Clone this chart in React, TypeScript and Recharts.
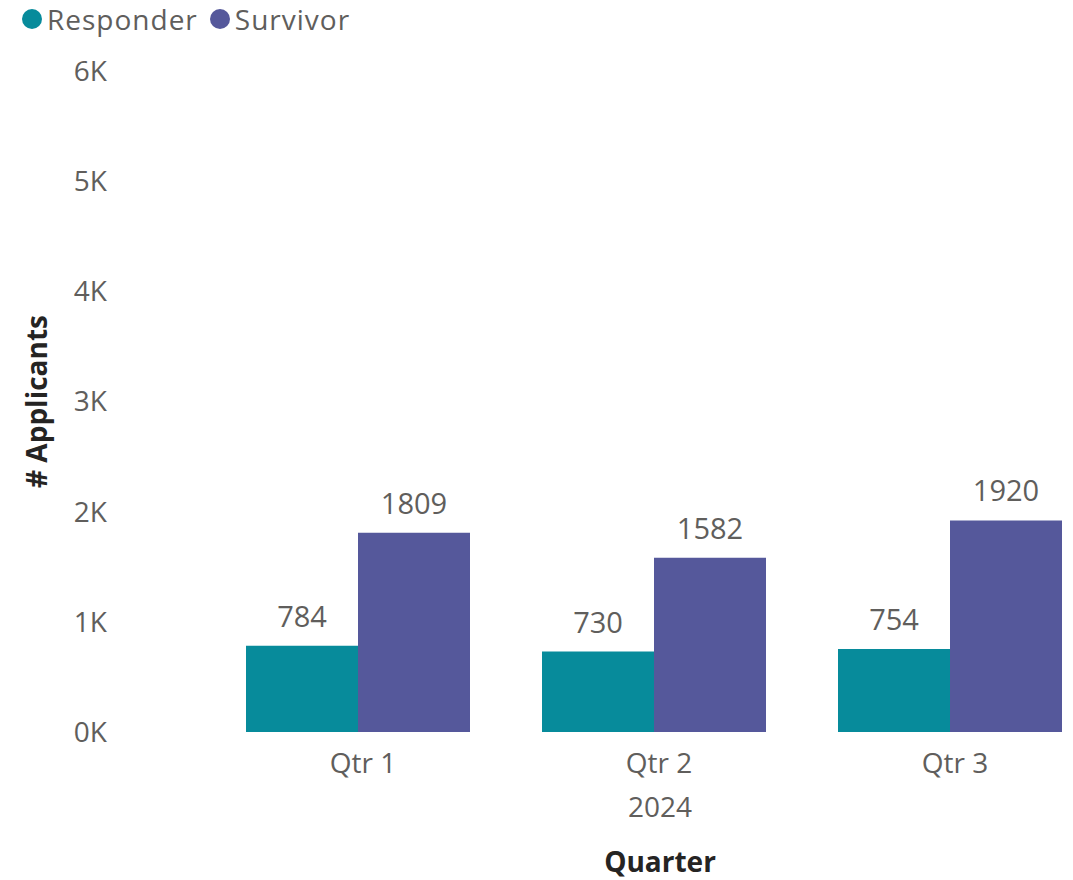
import React from 'react';
import { BarChart, Bar, XAxis, YAxis, LabelList } from 'recharts';

const quarters = ['Qtr 1', 'Qtr 2', 'Qtr 3'];
const responder = [784, 730, 754];
const survivor = [1809, 1582, 1920];
const yTicks = [0, 1000, 2000, 3000, 4000, 5000, 6000];
const yearLabel = '2024';
const seriesNames = ['Responder', 'Survivor'];
const seriesColors = ['#078B9B', '#55589B'];

const data = quarters.map((q, i) => ({ q, Responder: responder[i], Survivor: survivor[i] }));

const FONT = '"Segoe UI", "Open Sans", sans-serif';
const GRAY = '#605E5C';
const DARK = '#252423';

const XTick = (props: any) => {
  const { x, y, payload, index } = props;
  return (
    <g>
      <text x={x + 5} y={y + 30} textAnchor="middle" dominantBaseline="central" fill={GRAY} fontSize={28} fontFamily={FONT}>
        {payload.value}
      </text>
      {index === 1 && (
        <text x={x + 6} y={y + 74} textAnchor="middle" dominantBaseline="central" fill={GRAY} fontSize={28} fontFamily={FONT}>
          {yearLabel}
        </text>
      )}
    </g>
  );
};

export default function App() {
  return (
    <div style={{ position: 'absolute', left: 0, top: 0, width: 1073, height: 880, overflow: 'hidden', background: '#fff', fontFamily: FONT }}>
      <div style={{ position: 'absolute', left: 22, top: 0, display: 'flex', alignItems: 'center', zIndex: 2 }}>
        {seriesNames.map((n, i) => (
          <div key={n} style={{ display: 'flex', alignItems: 'center', marginRight: 12 }}>
            <span style={{ display: 'inline-block', width: 20, height: 20, borderRadius: 10, background: seriesColors[i], marginRight: 5 }} />
            <span style={{ fontSize: 28, letterSpacing: 1, color: GRAY }}>{n}</span>
          </div>
        ))}
      </div>
      <BarChart
        width={1108}
        height={880}
        data={data}
        margin={{ top: 71, right: 10, bottom: 118, left: 0 }}
        barCategoryGap={36}
        barGap={0}
      >
        <XAxis
          dataKey="q"
          height={30}
          axisLine={false}
          tickLine={false}
          tickSize={0}
          tickMargin={0}
          interval={0}
          tick={<XTick />}
          label={{
            content: (p: any) => {
              const vb = p.viewBox;
              return (
                <text x={vb.x + vb.width / 2 + 6} y={861} textAnchor="middle" dominantBaseline="central" fill={DARK} fontSize={28} fontWeight={700} fontFamily={FONT}>
                  Quarter
                </text>
              );
            },
          }}
        />
        <YAxis
          width={210}
          domain={[0, 6000]}
          ticks={yTicks}
          axisLine={false}
          tickLine={false}
          tickSize={0}
          tickMargin={103}
          tickFormatter={(v: number) => `${v / 1000}K`}
          tick={{ fill: GRAY, fontSize: 28, fontFamily: FONT }}
          label={{
            content: (p: any) => {
              const vb = p.viewBox;
              const cy = vb.y + vb.height / 2;
              return (
                <text x={36} y={cy} transform={`rotate(-90 36 ${cy})`} textAnchor="middle" dominantBaseline="central" fill={DARK} fontSize={28} fontWeight={700} fontFamily={FONT}>
                  # Applicants
                </text>
              );
            },
          }}
        />
        <Bar dataKey="Responder" fill={seriesColors[0]} isAnimationActive={false}>
          <LabelList dataKey="Responder" position="top" offset={19} fill={GRAY} fontSize={29} fontFamily={FONT} />
        </Bar>
        <Bar dataKey="Survivor" fill={seriesColors[1]} isAnimationActive={false}>
          <LabelList dataKey="Survivor" position="top" offset={19} fill={GRAY} fontSize={29} fontFamily={FONT} />
        </Bar>
      </BarChart>
    </div>
  );
}
